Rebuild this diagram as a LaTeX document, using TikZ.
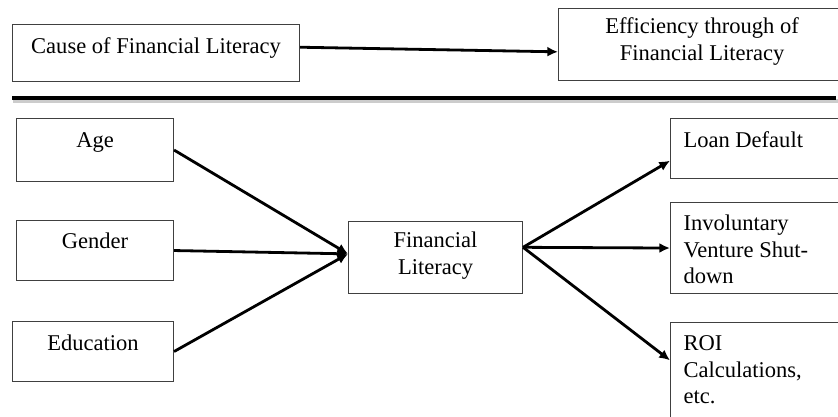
\documentclass[tikz,border=0pt]{standalone}
\usepackage{fontspec}
\setmainfont{Liberation Serif}
\usetikzlibrary{arrows.meta,calc,positioning}
\newlength{\pxu}
\setlength{\pxu}{0.75pt}
% box contents: width, height, first baseline, text
\newcommand{\cbox}[4]{\parbox[t][#2\pxu][t]{#1\pxu}{\centering\rule{0pt}{#3\pxu}#4}}
\newcommand{\lbox}[4]{\parbox[t][#2\pxu][t]{#1\pxu}{\raggedright\leftskip=13\pxu\rule{0pt}{#3\pxu}#4}}

\begin{document}
\begin{tikzpicture}[x=0.75pt,y=-0.75pt,
  box/.style={draw=black!75,line width=0.8pt,inner sep=0pt,anchor=north west,
    font=\fontsize{16.9}{19.9}\selectfont},
  arr/.style={line width=2.1pt,-{Latex[length=8pt,width=7.5pt]}}]

  \useasboundingbox (0,0) rectangle (838,417);
  \clip (0,0) rectangle (838,417);

  % top row
  \node[box] (cause) at (12,24) {\cbox{287}{57}{29}{Cause of Financial Literacy}};
  \node[box] (effic) at (558,8) {\cbox{287}{72}{25}{Efficiency through of\\Financial Literacy}};

  \draw[arr] ($(cause.north east)!0.4!(cause.south east)$) -- ($(effic.north west)!0.6!(effic.south west)$);

  % dividing rule
  \draw[line width=2.5pt,black!20] (13,101) -- (838,101);
  \draw[line width=3pt] (12,98) -- (836,98);

  % causes
  \node[box] (age) at (16,118) {\cbox{157}{63}{29}{Age}};
  \node[box] (gender) at (16,220) {\cbox{157}{60}{28}{Gender}};
  \node[box] (educ) at (12,321) {\cbox{161}{60}{29}{Education}};

  \node[box] (finlit) at (348,221) {\cbox{174}{72}{26}{Financial\\Literacy}};

  % effects
  \node[box] (loan) at (670,118) {\lbox{190}{60}{29}{Loan Default}};
  \node[box] (shutdown) at (670,202) {\lbox{190}{91}{28}{Involuntary\\Venture Shut-\\down}};
  \node[box] (roi) at (670,322) {\lbox{190}{110}{28}{ROI\\Calculations,\\etc.}};

  \coordinate (fin-in) at ($(finlit.north west)!0.45!(finlit.south west)$);
  \coordinate (fin-out) at ($(finlit.north east)!0.36!(finlit.south east)$);

  % draw arrows into the middle box
  \draw[arr] (age.east) -- (fin-in);
  \draw[arr] (gender.east) -- (fin-in);
  \draw[arr] (educ.east) -- (fin-in);

  % draw arrows out of it
  \draw[arr] (fin-out) -- ($(loan.north west)!0.7!(loan.south west)$);
  \draw[arr] (fin-out) -- (shutdown.west);
  \draw[arr] (fin-out) -- ($(roi.north west)!0.345!(roi.south west)$);

\end{tikzpicture}
\end{document}
